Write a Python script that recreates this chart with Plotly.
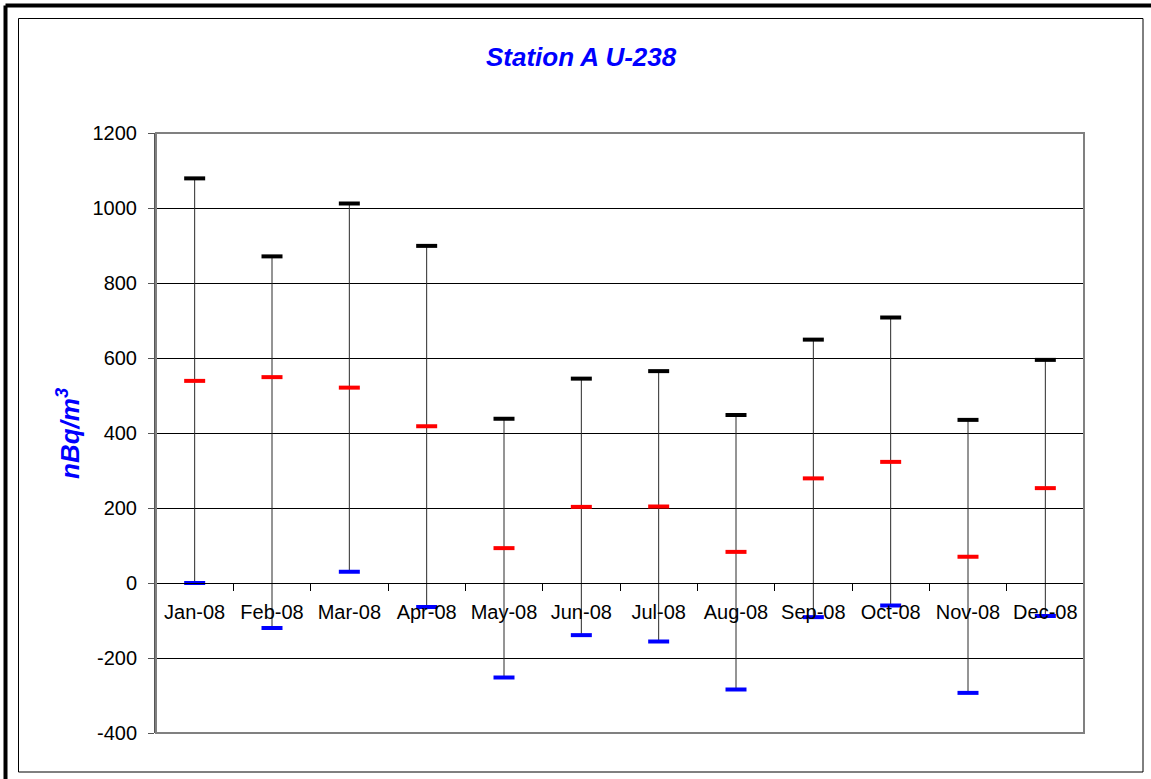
import plotly.graph_objects as go

months = ["Jan-08", "Feb-08", "Mar-08", "Apr-08", "May-08", "Jun-08",
          "Jul-08", "Aug-08", "Sep-08", "Oct-08", "Nov-08", "Dec-08"]
upper = [1079, 871, 1012, 899, 438, 545, 565, 448, 649, 708, 435, 595]
mean = [539, 549, 521, 418, 93, 203, 204, 83, 279, 323, 70, 253]
lower = [0, -120, 30, -64, -252, -139, -156, -284, -91, -60, -293, -88]
y_ticks = [-400, -200, 0, 200, 400, 600, 800, 1000, 1200]

W, H = 1151, 779
L, R, T, B = 156, 1084, 133, 733
FONT = "Liberation Sans, Arial, sans-serif"

# vertical range lines
vx, vy = [], []
for m, lo, hi in zip(months, lower, upper):
    vx += [m, m, None]
    vy += [lo, hi, None]

fig = go.Figure()
fig.add_trace(go.Scatter(x=vx, y=vy, mode="lines",
                         line=dict(color="#2a2a2a", width=1),
                         hoverinfo="skip", showlegend=False))
for vals, col in [(upper, "#000000"), (mean, "#ff0000"), (lower, "#0000ff")]:
    fig.add_trace(go.Scatter(x=months, y=vals, mode="markers",
                             marker=dict(symbol="line-ew", size=15,
                                         line=dict(color=col, width=4)),
                             showlegend=False))

def px(x):
    return (x - L) / (R - L)

def py(y):
    return (B - y) / (B - T)

shapes = [
    dict(type="rect", xref="paper", yref="paper", x0=0, x1=1, y0=0, y1=1,
         line=dict(color="#808080", width=2)),
    dict(type="rect", xref="paper", yref="paper", x0=px(18.5), x1=px(1143),
         y0=py(772), y1=py(18.5), line=dict(color="#000000", width=1)),
    dict(type="line", xref="paper", yref="paper", x0=px(5.5), x1=px(1170),
         y0=py(5.5), y1=py(5.5), line=dict(color="#000000", width=4)),
    dict(type="line", xref="paper", yref="paper", x0=px(5.5), x1=px(5.5),
         y0=py(5.5), y1=py(800), line=dict(color="#000000", width=4)),
]

fig.update_layout(
    width=W, height=H,
    margin=dict(l=L, r=W - R, t=T, b=H - B, pad=0),
    paper_bgcolor="white", plot_bgcolor="white",
    font=dict(family=FONT, size=20, color="black"),
    shapes=shapes,
    annotations=[
        dict(text="<b><i>Station A U-238</i></b>", xref="paper", yref="paper",
             x=px(581.5), y=py(57), xanchor="center", yanchor="middle",
             showarrow=False, font=dict(family=FONT, size=26, color="#0000ff")),
        dict(text="<b><i>nBq/m<sup>3</sup></i></b>", xref="paper", yref="paper",
             x=px(68), y=py(434), xanchor="center", yanchor="middle",
             textangle=-90, showarrow=False,
             font=dict(family=FONT, size=26, color="#0000ff")),
    ],
    xaxis=dict(type="category", categoryorder="array", categoryarray=months,
               range=[-0.5, 11.5], anchor="free", position=0.25,
               showline=True, linecolor="black", linewidth=1,
               ticks="outside", ticklen=7, tickwidth=1, tickcolor="black",
               tickson="boundaries", showgrid=False, zeroline=False,
               ticklabelstandoff=11,
               tickfont=dict(family=FONT, size=20, color="black")),
    yaxis=dict(range=[-400, 1200], tickvals=y_ticks,
               ticktext=[str(v) for v in y_ticks],
               showgrid=True, gridcolor="black", gridwidth=1,
               zeroline=False, showline=True, linecolor="#555555", linewidth=2,
               ticks="outside", ticklen=6, tickcolor="#555555", tickwidth=1,
               ticklabelstandoff=7,
               tickfont=dict(family=FONT, size=20, color="black")),
)

fig.write_html(
    "out.html",
    config={"displayModeBar": False},
    post_script="document.body.style.margin='0';document.body.style.overflow='hidden';",
)
